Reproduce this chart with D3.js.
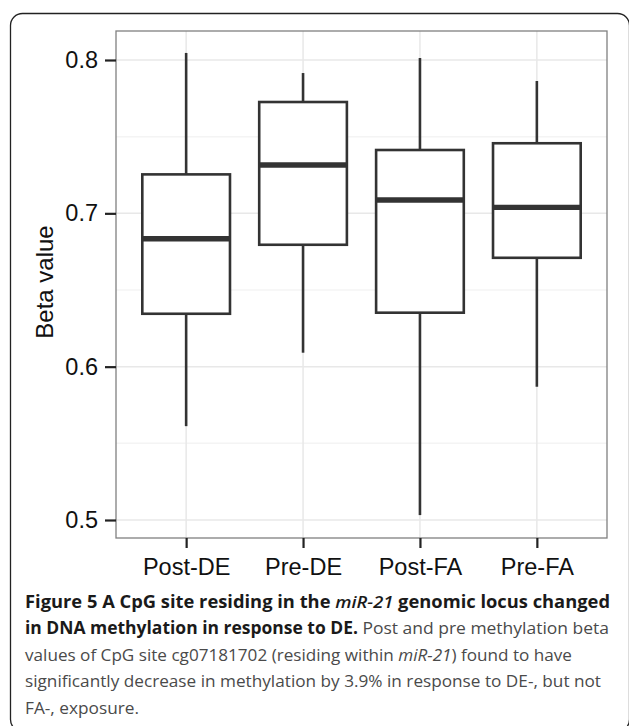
<!DOCTYPE html>
<html>
<head>
<meta charset="utf-8">
<script src="https://cdn.jsdelivr.net/npm/d3@7"></script>
<style>
  html, body { margin: 0; padding: 0; background: #fff; }
  svg { display: block; }
</style>
</head>
<body>
<div id="chart"></div>
<script>
// box stats
const categories = ['Post-DE', 'Pre-DE', 'Post-FA', 'Pre-FA'];
const whiskerHigh = [0.8046, 0.7915, 0.8013, 0.7863];
const upperQuartile = [0.7254, 0.7726, 0.7413, 0.7457];
const medians = [0.6834, 0.7315, 0.7087, 0.7039];
const lowerQuartile = [0.6345, 0.6795, 0.6352, 0.6710];
const whiskerLow = [0.5612, 0.6091, 0.5032, 0.5869];
const yTicks = [0.5, 0.6, 0.7, 0.8];
const yMinorTicks = [0.55, 0.65, 0.75];

const captionLines = [
  [{t: 'Figure 5 A CpG site residing in the ', b: 1}, {t: 'miR-21', b: 1, i: 1}, {t: ' genomic locus changed', b: 1}],
  [{t: 'in DNA methylation in response to DE.', b: 1}, {t: ' Post and pre methylation beta'}],
  [{t: 'values of CpG site cg07181702 (residing within '}, {t: 'miR-21', i: 1}, {t: ') found to have'}],
  [{t: 'significantly decrease in methylation by 3.9% in response to DE-, but not'}],
  [{t: 'FA-, exposure.'}]
];
const captionWidths = [585, 584, 547, 576, 114];

const width = 629, height = 726;
const panel = {left: 116, right: 607, top: 31, bottom: 538};

const data = categories.map((c, i) => ({
  cat: c, hi: whiskerHigh[i], q3: upperQuartile[i], med: medians[i],
  q1: lowerQuartile[i], lo: whiskerLow[i]
}));

const svg = d3.select('#chart').append('svg')
  .attr('width', width).attr('height', height);

// outer frame, open at the bottom edge
svg.append('rect')
  .attr('x', 10.5).attr('y', 13.5)
  .attr('width', 619).attr('height', 718)
  .attr('rx', 12)
  .attr('fill', 'none').attr('stroke', '#222').attr('stroke-width', 1.3);

const x = d3.scalePoint().domain(categories)
  .range([panel.left, panel.right]).padding(0.6);
const y = d3.scaleLinear().domain([0.48826, 0.81891])
  .range([panel.bottom, panel.top]);
const boxW = x.step() * 0.75;

// grid
const grid = svg.append('g');
grid.selectAll('line.minor').data(yMinorTicks).enter().append('line')
  .attr('x1', panel.left).attr('x2', panel.right)
  .attr('y1', d => y(d)).attr('y2', d => y(d))
  .attr('stroke', '#f4f4f4').attr('stroke-width', 1.5);
grid.selectAll('line.major').data(yTicks).enter().append('line')
  .attr('x1', panel.left).attr('x2', panel.right)
  .attr('y1', d => y(d)).attr('y2', d => y(d))
  .attr('stroke', '#e8e8e8').attr('stroke-width', 1.5);
grid.selectAll('line.vert').data(categories).enter().append('line')
  .attr('x1', d => x(d)).attr('x2', d => x(d))
  .attr('y1', panel.top).attr('y2', panel.bottom)
  .attr('stroke', '#e8e8e8').attr('stroke-width', 1.5);

// boxes
const boxes = svg.selectAll('g.box').data(data).enter().append('g');
boxes.append('line')
  .attr('x1', d => x(d.cat)).attr('x2', d => x(d.cat))
  .attr('y1', d => y(d.hi)).attr('y2', d => y(d.q3))
  .attr('stroke', '#333').attr('stroke-width', 2.6);
boxes.append('line')
  .attr('x1', d => x(d.cat)).attr('x2', d => x(d.cat))
  .attr('y1', d => y(d.q1)).attr('y2', d => y(d.lo))
  .attr('stroke', '#333').attr('stroke-width', 2.6);
boxes.append('rect')
  .attr('x', d => x(d.cat) - boxW / 2).attr('width', boxW)
  .attr('y', d => y(d.q3)).attr('height', d => y(d.q1) - y(d.q3))
  .attr('fill', '#fff').attr('stroke', '#333').attr('stroke-width', 2.6);
boxes.append('line')
  .attr('x1', d => x(d.cat) - boxW / 2).attr('x2', d => x(d.cat) + boxW / 2)
  .attr('y1', d => y(d.med)).attr('y2', d => y(d.med))
  .attr('stroke', '#333').attr('stroke-width', 5.4);

// panel border
svg.append('rect')
  .attr('x', panel.left).attr('y', panel.top)
  .attr('width', panel.right - panel.left).attr('height', panel.bottom - panel.top)
  .attr('fill', 'none').attr('stroke', '#808080').attr('stroke-width', 1.3);

// axes
const yAxis = svg.append('g')
  .attr('transform', 'translate(' + panel.left + ',0)')
  .call(d3.axisLeft(y).tickValues(yTicks).tickFormat(d3.format('.1f'))
    .tickSize(11).tickPadding(7));
const xAxis = svg.append('g')
  .attr('transform', 'translate(0,' + panel.bottom + ')')
  .call(d3.axisBottom(x).tickSize(10).tickPadding(10));
[yAxis, xAxis].forEach(a => {
  a.select('.domain').remove();
  a.selectAll('.tick line').attr('stroke', '#222').attr('stroke-width', 2.2);
  a.selectAll('.tick text')
    .attr('fill', '#111')
    .style('font-family', '"Liberation Sans", Arial, sans-serif')
    .style('font-size', '23.5px');
});

svg.append('text')
  .attr('transform', 'translate(53,282) rotate(-90)')
  .attr('text-anchor', 'middle')
  .attr('fill', '#111')
  .style('font-family', '"Liberation Sans", Arial, sans-serif')
  .style('font-size', '24px')
  .text('Beta value');

// caption
const cap = svg.append('g')
  .style('font-family', '"Open Sans", "Noto Sans", sans-serif')
  .style('font-size', '17px');
captionLines.forEach((segs, li) => {
  const t = cap.append('text')
    .attr('x', 25).attr('y', 607.5 + li * 26.5)
    .attr('textLength', captionWidths[li])
    .attr('lengthAdjust', 'spacingAndGlyphs');
  segs.forEach(s => {
    t.append('tspan')
      .attr('font-weight', s.b ? (s.i ? 600 : 700) : 400)
      .attr('font-style', s.i ? 'italic' : 'normal')
      .attr('fill', s.b ? '#1a1a1a' : '#4a4a4a')
      .text(s.t);
  });
});
</script>
</body>
</html>
